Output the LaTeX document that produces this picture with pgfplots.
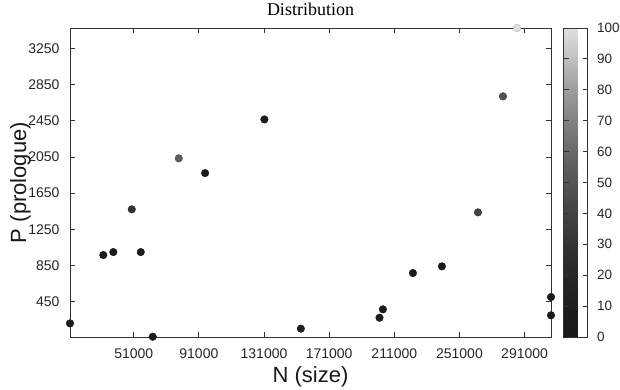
\documentclass[border=0pt]{standalone}
\usepackage{fontspec}
\setmainfont{Liberation Sans}
\newfontfamily\titlefont{Liberation Serif}
\usepackage{pgfplots}
\pgfplotsset{compat=1.18}
\begin{document}
\begin{tikzpicture}[x=1pt,y=1pt]
\path[use as bounding box] (0,0) rectangle (620,390);
\begin{axis}[
  at={(70pt,53pt)}, anchor=south west,
  scale only axis, width=481pt, height=309pt,
  xmin=11860, xmax=307221, ymin=60, ymax=3476,
  xtick={51000,91000,...,291000}, ytick={450,850,...,3250},
  scaled ticks=false,
  tick align=inside, major tick length=5pt,
  tick pos=both,
  axis line style={black!80, line width=0.9pt},
  every tick/.style={black!80, line width=0.8pt},
  /pgf/number format/fixed,
  /pgf/number format/precision=0,
  /pgf/number format/1000 sep={},
  /pgf/number format/assume math mode=true,
  tick label style={font=\fontsize{14}{16}\selectfont, text=black!85},
  xticklabel style={yshift=-8pt},
  yticklabel style={xshift=-7pt},
  clip=false,
  title={\titlefont\fontsize{18}{20}\selectfont Distribution},
  title style={at={(axis description cs:0.5,1.042)}, anchor=center, inner sep=0pt},
  xlabel={N (size)},
  ylabel={P (prologue)},
  label style={font=\fontsize{22}{24}\selectfont, text=black!90},
  xlabel style={at={(axis description cs:0.5,-0.128)}, anchor=center},
  ylabel style={at={(axis description cs:-0.103,0.5)}, anchor=center},
  colormap={gnugray}{gray(0cm)=(0.10) gray(1cm)=(0.12) gray(2cm)=(0.15) gray(3cm)=(0.20) gray(4cm)=(0.26) gray(5cm)=(0.33) gray(6cm)=(0.41) gray(7cm)=(0.51) gray(8cm)=(0.62) gray(9cm)=(0.75) gray(10cm)=(0.88)},
  point meta min=0, point meta max=100,
  colorbar,
  colorbar style={
    width=24pt,
    at={(parent axis.north east)}, anchor=north west, xshift=4pt,
    ytick={0,10,...,100},
    ytick pos=both,
    yticklabel pos=right,
    tick align=inside, major tick length=5pt,
    axis line style={black!80, line width=0.9pt},
    every tick/.style={black!80, line width=0.8pt},
    /pgf/number format/fixed,
    /pgf/number format/precision=0,
    /pgf/number format/assume math mode=true,
    tick label style={font=\fontsize{13.5}{15}\selectfont, text=black!85},
    yticklabel style={xshift=6pt},
  },
]
\addplot[scatter, only marks, mark=*, mark size=3.8pt, scatter src=explicit]
  table[meta=c] {
x y c
11860 211 5
32321 966 5
38465 999 5
49771 1471 30
55301 999 3
62674 63 5
153611 152 12
78650 2035 55
94810 1872 5
131246 2465 5
201906 273 5
203995 366 5
222429 767 5
240247 841 5
262367 1438 40
307221 502 5
307221 300 5
277728 2720 48
286330 3476 100
};
\end{axis}
\end{tikzpicture}
\end{document}
